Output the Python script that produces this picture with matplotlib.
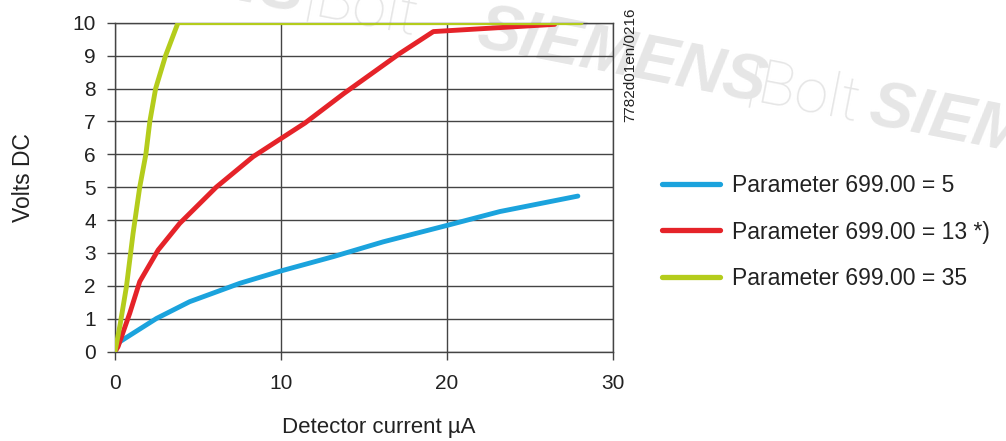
import math
import matplotlib
matplotlib.use("Agg")
import matplotlib.pyplot as plt
from matplotlib import font_manager

plt.rcParams['font.family'] = ['Liberation Sans', 'DejaVu Sans']

# Data
x_p5 = [0, 0.28, 1.09, 2.5, 4.5, 7.53, 10.04, 13.16, 16.17, 20.1, 23.2, 27.9]
y_p5 = [0, 0.30, 0.56, 1.01, 1.52, 2.08, 2.46, 2.89, 3.34, 3.85, 4.26, 4.73]

x_p13 = [0, 0.18, 0.89, 1.49, 2.6, 3.9, 6.1, 8.33, 10.04, 11.45, 13.8, 17.18, 19.19, 26.5]
y_p13 = [0, 0.15, 1.17, 2.13, 3.09, 3.9, 5.0, 5.93, 6.49, 6.95, 7.85, 9.07, 9.73, 9.95]

x_p35 = [0, 0.3, 0.69, 1.09, 1.49, 1.86, 2.1, 2.45, 3.05, 3.8, 28.1]
y_p35 = [0, 0.8, 1.98, 3.6, 5.0, 6.0, 7.0, 8.0, 9.0, 10.0, 10.0]

labels = ["Parameter 699.00 = 5", "Parameter 699.00 = 13 *)", "Parameter 699.00 = 35"]
colors = ["#1ba3dd", "#e52329", "#b4cc1c"]

x_ticks = [0, 10, 20, 30]
y_ticks = list(range(0, 11))

names = {f.name for f in font_manager.fontManager.ttflist}
narrow = 'Liberation Sans Narrow' if 'Liberation Sans Narrow' in names else 'Liberation Sans'
light_fam = ['Roboto', 'DejaVu Sans']

W, H = 1006, 441
fig = plt.figure(figsize=(W / 100, H / 100), dpi=100)
ax = fig.add_axes([115 / W, 1 - 351.7 / H, (612.7 - 115) / W, (351.7 - 22.7) / H])
ax.patch.set_alpha(0)

# faint watermark along a slanted baseline
wm_color = "#e6e6e6"
rot = -11.1
slope = math.tan(math.radians(-rot))
def base_y(px):
    return 52 + (px - 500) * slope

def wm(px, txt, bold, ha="left"):
    py = base_y(px)
    kw = dict(color=wm_color, rotation=rot, rotation_mode="anchor",
              zorder=-5, ha=ha, va="baseline")
    if bold:
        kw.update(family=[narrow, 'DejaVu Sans'], fontsize=47,
                  fontweight="bold", fontstyle="italic")
    else:
        kw.update(family=light_fam, fontsize=44, fontweight="light")
    fig.text(px / W, 1 - py / H, txt, **kw)

wm(300, "SIEMENS", True, ha="right")
wm(302, "|Bolt", False)
wm(474, "SIEMENS", True)
wm(744, "|Bolt", False)
wm(866, "SIEMENS", True)

lw = 3.5
ax.plot(x_p5, y_p5, color=colors[0], lw=lw, label=labels[0], solid_capstyle="round", zorder=3)
ax.plot(x_p13, y_p13, color=colors[1], lw=lw, label=labels[1], solid_capstyle="round", zorder=3)
ax.plot(x_p35, y_p35, color=colors[2], lw=lw, label=labels[2], solid_capstyle="round", zorder=4)

ax.set_xlim(0, 30)
ax.set_ylim(0, 10)
ax.set_xticks(x_ticks)
ax.set_yticks(y_ticks)
ax.grid(True, color="#444444", lw=1.0, zorder=1)
for s in ax.spines.values():
    s.set_color("#444444")
    s.set_linewidth(1.0)
ax.tick_params(axis="both", length=5.8, width=1.0, color="#444444",
               labelsize=15, labelcolor="#222222")
ax.tick_params(axis="y", pad=8)
ax.tick_params(axis="x", pad=10)

fig.text(379 / W, 1 - 427 / H, "Detector current µA",
         fontsize=16, color="#222222", ha="center", va="center")
fig.text(23.5 / W, 1 - 178 / H, "Volts DC", rotation=90, fontsize=16.5,
         color="#222222", ha="center", va="center")

fig.text(630 / W, 1 - 7 / H, "7782d01en/0216", rotation=90, fontsize=11,
         color="#222222", ha="center", va="top")

leg = fig.legend(loc="center left", bbox_to_anchor=(662 / W, 1 - 232 / H), frameon=False,
                 fontsize=16.5, handlelength=2.55, handletextpad=0.5, labelspacing=1.03,
                 labelcolor="#222222", borderaxespad=0, borderpad=0)
for h in leg.legend_handles:
    h.set_linewidth(3.8)

fig.savefig("out.png", dpi=100)
